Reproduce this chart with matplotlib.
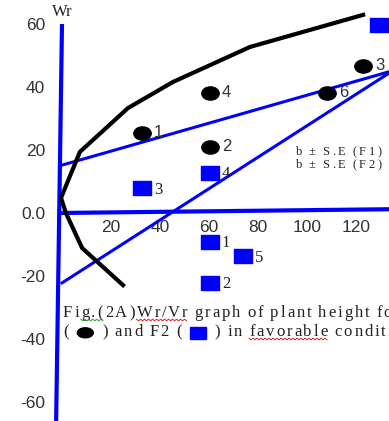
import numpy as np
import matplotlib
matplotlib.use("Agg")
import matplotlib.pyplot as plt
from matplotlib.path import Path
from matplotlib.lines import Line2D
from matplotlib.patches import Ellipse, Rectangle
from matplotlib.offsetbox import DrawingArea, AnnotationBbox
from matplotlib.transforms import IdentityTransform

# ---------------- data ----------------
f1_labels = ["1", "2", "3", "4", "6"]
f1_vr = [32.7, 60.4, 122.9, 60.4, 108.2]
f1_wr = [25.4, 21.0, 46.7, 38.1, 38.1]

f2_labels = ["1", "2", "3", "4", "5", "6"]
f2_vr = [60.4, 60.4, 32.7, 60.4, 73.9, 129.4]
f2_wr = [-9.2, -22.2, 7.9, 12.7, -13.7, 59.7]

# limiting parabola (as drawn)
curve_vr = [24.9, 8.2, 1.6, -0.4, 7.3, 26.9, 45.3, 76.7, 122.9]
curve_wr = [-22.9, -11.1, 0.0, 4.8, 19.4, 33.3, 41.6, 52.7, 62.9]

# regression lines Wr = a + b*Vr
f1_a, f1_b = 15.2, 0.222
f2_a, f2_b = -22.2, 0.499

x_ticks = [20, 40, 60, 80, 100, 120]
x_ticklabels = ["20", "40", "60", "80", "100", "120"]
y_ticks = [60, 40, 20, 0, -20, -40, -60]
y_ticklabels = ["60", "40", "20", "0.0", "-20", "-40", "-60"]

caption1 = "Fig.(2A)Wr/Vr graph of plant height for F1"
caption2a = "( "
caption2b = " ) and F2 ( "
caption2c = " ) in favorable conditions"
se1 = "b \u00b1 S.E (F1) = "
se2 = "b \u00b1 S.E (F2) = "

# ---------------- style ----------------
plt.rcParams["font.family"] = ["Liberation Serif", "DejaVu Serif"]
BLUE = "#0000ff"
DARK = "#222222"
SERIF = ["Liberation Serif", "DejaVu Serif"]
SANS = ["Liberation Sans", "DejaVu Sans"]

fig = plt.figure(figsize=(3.89, 4.21), dpi=100)
ax = fig.add_axes([0, 0, 1, 1])
ax.set_xlim(-62 / 2.45, (389 - 62) / 2.45)
ax.set_ylim(-(421 - 213) / 3.15, 213 / 3.15)

for s in ["top", "right"]:
    ax.spines[s].set_visible(False)
ax.spines["left"].set_position(("data", 0))
ax.spines["bottom"].set_position(("data", 0))
ax.spines["left"].set_color("none")
ax.spines["bottom"].set_color("none")

ax.set_xticks(x_ticks)
ax.set_xticklabels(x_ticklabels, family=SANS)
ax.set_yticks(y_ticks)
ax.set_yticklabels(y_ticklabels, family=SANS)
ax.tick_params(axis="x", length=0, pad=5, labelsize=12.5, labelcolor="#333333")
ax.tick_params(axis="y", length=0, pad=12, labelsize=12.5, labelcolor="#333333")

# axis lines (blue, as drawn)
ax.plot([0, -2.4], [60, -66.5], color=BLUE, lw=3, solid_capstyle="butt")
ax.plot([-1.6, 134], [0, 1.2], color=BLUE, lw=3, solid_capstyle="butt")

# regression lines
xr = np.array([0, 134])
ax.plot(xr, f1_a + f1_b * xr, color=BLUE, lw=2.2)
ax.plot(xr, f2_a + f2_b * xr, color=BLUE, lw=2.2)

# limiting parabola
ax.plot(curve_vr, curve_wr, color="black", lw=3, solid_joinstyle="round")

# markers
ell = Path.unit_circle()
ell = Path(ell.vertices * np.array([1.0, 0.76]), ell.codes)
rect = Path([(-1, -0.78), (1, -0.78), (1, 0.78), (-1, 0.78), (-1, -0.78)],
            [Path.MOVETO, Path.LINETO, Path.LINETO, Path.LINETO, Path.CLOSEPOLY])

ax.plot(f1_vr, f1_wr, ls="none", marker=ell, ms=12.5, color="black")
ax.plot(f2_vr, f2_wr, ls="none", marker=rect, ms=12.5, color=BLUE, mec=BLUE)

for lab, x, y in zip(f1_labels, f1_vr, f1_wr):
    ax.annotate(lab, (x, y), xytext=(8.5, 0), textcoords="offset points",
                fontsize=12, va="center", ha="left", color="#333333", family=SANS)
for lab, x, y in zip(f2_labels, f2_vr, f2_wr):
    ax.annotate(lab, (x, y), xytext=(8.5, -1), textcoords="offset points",
                fontsize=12, va="center", ha="left", color=DARK, family=SERIF)

# Wr label
ax.text(0, (213 - 12) / 3.15, "Wr", fontsize=12, ha="center", va="center", color=DARK)


# ---------- letter-spaced text helper ----------
def spaced(x, y, segments, fontsize, spacing, space_em=0.25):
    """Place characters one by one with extra spacing (points)."""
    first = None
    prev = None
    pending = 0.0
    arts = []
    for seg, col in segments:
        if seg.startswith("@"):
            da = DrawingArea(14.0, 8.0, 0, 0)
            if seg == "@ellipse":
                da.add_artist(Ellipse((7.0, 4.0), 11.5, 7.2, color=col))
            else:
                da.add_artist(Rectangle((1.3, -0.3), 11.4, 8.6, color=col))
            ab = AnnotationBbox(da, xy=(1, 0.45), xycoords=(prev, first),
                                xybox=(spacing + pending, 0), boxcoords="offset points",
                                box_alignment=(0, 0.5), frameon=False, pad=0)
            ax.add_artist(ab)
            prev = ab
            pending = 0.0
            arts.append(("@", ab))
            continue
        for ch in seg:
            if ch == " ":
                pending += space_em * fontsize
                continue
            if first is None:
                t = ax.text(x, y, ch, fontsize=fontsize, ha="left", va="bottom", color=col)
                first = t
            else:
                t = ax.annotate(ch, xy=(1, 0), xycoords=(prev, first),
                                xytext=(spacing + pending, 0), textcoords="offset points",
                                fontsize=fontsize, ha="left", va="bottom", color=col)
            pending = 0.0
            prev = t
            arts.append((ch, t))
    return arts


px2x = lambda p: (p - 62) / 2.45
px2y = lambda p: (213 - p) / 3.15

# b +- SE text
spaced(px2x(296), px2y(158), [(se1, DARK)], 9, 2.0, 0.3)
spaced(px2x(296), px2y(171), [(se2, DARK)], 9, 2.0, 0.3)

# caption
cap1 = spaced(px2x(63), px2y(321), [(caption1, DARK)], 12, 1.4, 0.3)
cap2 = spaced(px2x(63), px2y(340), [(caption2a, DARK), ("@ellipse", "black"),
                                   (caption2b, DARK), ("@square", BLUE),
                                   (caption2c, DARK)], 12, 1.4, 0.3)

# spell-check squiggles under some words (following the text extents)
fig.canvas.draw()
r = fig.canvas.get_renderer()


def squiggle(arts, i0, i1, color):
    bbs = [a.get_window_extent(r) for _, a in arts[i0:i1]]
    x0 = min(b.x0 for b in bbs)
    x1 = max(b.x1 for b in bbs)
    yb = min(b.y0 for b in bbs) + 1.0
    xs = np.arange(x0, x1 + 0.1, 2.0)
    ys = yb + np.where(np.arange(len(xs)) % 2 == 0, 0.8, -0.8)
    fig.add_artist(Line2D(xs, ys, color=color, lw=0.7, transform=IdentityTransform()))


squiggle(cap1, 2, 5, "#2e9e2e")      # g.(
squiggle(cap1, 8, 13, "#e02020")     # Wr/Vr
chars2 = "".join(c for c, _ in cap2)
k = chars2.find("favorable")
squiggle(cap2, k, k + 9, "#e02020")

fig.savefig("out.png", dpi=100)
